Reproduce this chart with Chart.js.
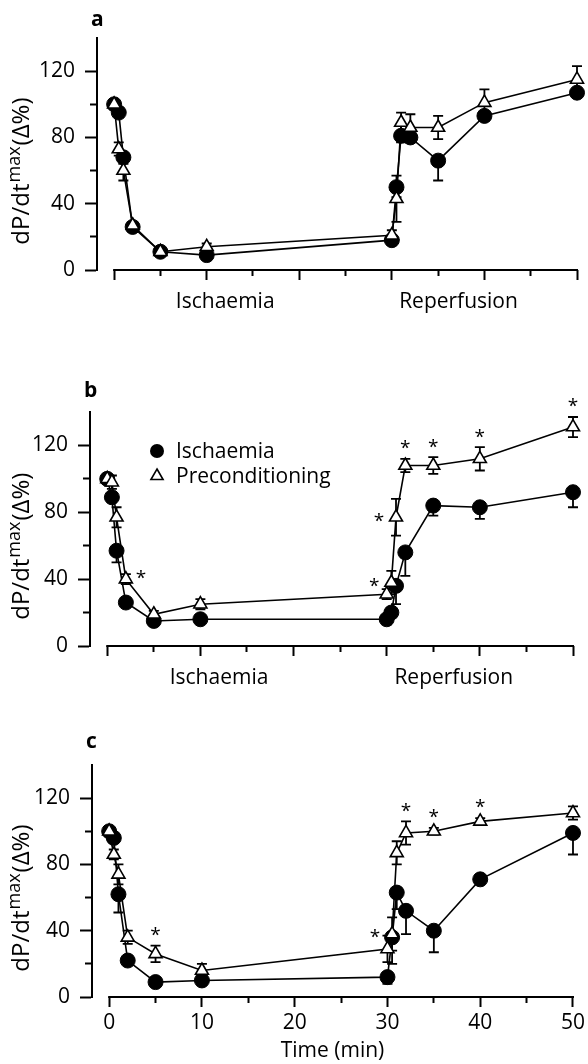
<!DOCTYPE html>
<html>
<head>
<meta charset="utf-8">
<script src="https://cdn.jsdelivr.net/npm/chart.js@4.4.1/dist/chart.umd.min.js"></script>
<style>
  html, body { margin: 0; padding: 0; background: #fff; }
  body { width: 588px; height: 1064px; position: relative; overflow: hidden; }
  canvas { position: absolute; left: 0; }
</style>
</head>
<body>
<canvas id="panelA" width="588" height="330" style="top:0px"></canvas>
<canvas id="panelB" width="588" height="370" style="top:340px"></canvas>
<canvas id="panelC" width="588" height="354" style="top:710px"></canvas>
<script>
// sampling times (min) shared by all three panels
const times = [0, 0.5, 1, 2, 5, 10, 30, 30.5, 31, 32, 35, 40, 50];

// panel a
const ischA    = [100, 95, 68, 26, 11, 9, 18, 50, 81, 80, 66, 93, 107];
const ischAErr = [0, 2, 4, 2, 2, 2, 3, 6, 4, 3, 12, 3, 3];
const precA    = [100, 73, 60, 27, 11, 14, 21, 43, 89, 86, 86, 101, 115];
const precAErr = [0, 4, 6, 2, 2, 2, 3, 14, 6, 8, 7, 8, 8];

// panel b
const ischB    = [100, 89, 57, 26, 15, 16, 16, 20, 36, 56, 84, 83, 92];
const ischBErr = [0, 3, 7, 2, 2, 2, 3, 3, 11, 14, 6, 7, 9];
const precB    = [100, 98, 77, 40, 19, 25, 31, 38, 77, 108, 108, 112, 131];
const precBErr = [0, 4, 6, 3, 2, 3, 3, 7, 11, 4, 5, 7, 6];

// panel c
const ischC    = [100, 96, 62, 22, 9, 10, 12, 36, 63, 52, 40, 71, 99];
const ischCErr = [0, 3, 11, 2, 2, 2, 4, 16, 10, 14, 13, 2, 13];
const precC    = [100, 86, 74, 36, 26, 16, 29, 38, 87, 99, 100, 106, 111];
const precCErr = [0, 3, 6, 4, 5, 4, 8, 10, 7, 7, 2, 2, 4];

// significance marks on the preconditioning series
const starsA = [];
const starsB = [[2, 'right'], [30.5, 'left'], [31, 'left'], [32, 'up'], [35, 'up'], [40, 'up'], [50, 'up']];
const starsC = [[5, 'up'], [30.5, 'left'], [32, 'up'], [35, 'up'], [40, 'up']];

// axes
const xTicks = [0, 5, 10, 15, 20, 25, 30, 35, 40, 45, 50];
const yTicks = [0, 20, 40, 60, 80, 100, 120];
const phaseTicks = [12, 37.2];
const phaseLabels = ['Ischaemia', 'Reperfusion'];
const seriesLabels = ['Ischaemia', 'Preconditioning'];

const FONT = "'Open Sans', 'Noto Sans', sans-serif";

// error bars: ischaemia drawn downwards only, preconditioning both ways
const errorBars = {
  id: 'errorBars',
  beforeDatasetsDraw(chart) {
    const ctx = chart.ctx, xs = chart.scales.x, ys = chart.scales.y;
    ctx.save();
    ctx.strokeStyle = '#000';
    ctx.lineWidth = 1.8;
    chart.data.datasets.forEach(ds => {
      ds.data.forEach((p, i) => {
        const e = ds.errors[i];
        if (!e) return;
        const x = xs.getPixelForValue(p.x);
        const lo = ys.getPixelForValue(p.y - e);
        const hi = ys.getPixelForValue(ds.bothWays ? p.y + e : p.y);
        ctx.beginPath();
        ctx.moveTo(x, lo); ctx.lineTo(x, hi);
        ctx.moveTo(x - 5, lo); ctx.lineTo(x + 5, lo);
        if (ds.bothWays) { ctx.moveTo(x - 5, hi); ctx.lineTo(x + 5, hi); }
        ctx.stroke();
      });
    });
    ctx.restore();
  }
};

const stars = {
  id: 'stars',
  afterDatasetsDraw(chart, args, o) {
    const ctx = chart.ctx, xs = chart.scales.x, ys = chart.scales.y;
    const ds = chart.data.datasets.find(d => d.label === 'Preconditioning');
    ctx.save();
    ctx.fillStyle = '#000';
    ctx.font = '19px ' + FONT;
    ctx.textAlign = 'center';
    ctx.textBaseline = 'middle';
    (o.list || []).forEach(([t, at]) => {
      const i = times.indexOf(t);
      const p = ds.data[i];
      let x = xs.getPixelForValue(p.x), y;
      if (at === 'up') {
        y = ys.getPixelForValue(p.y + ds.errors[i]) - 14;
      } else if (at === 'left') {
        x -= 17; y = ys.getPixelForValue(p.y);
      } else {
        x += 15; y = ys.getPixelForValue(p.y) - 5;
      }
      ctx.fillText('*', x, y + 4);
    });
    ctx.restore();
  }
};

// x axis line runs only from the first to the last tick
const xLine = {
  id: 'xLine',
  afterDraw(chart) {
    const ctx = chart.ctx, xs = chart.scales.x;
    const y = chart.chartArea.bottom;
    ctx.save();
    ctx.strokeStyle = '#000';
    ctx.lineWidth = 2;
    ctx.beginPath();
    ctx.moveTo(xs.getPixelForValue(xTicks[0]) - 1, y);
    ctx.lineTo(xs.getPixelForValue(xTicks[xTicks.length - 1]) + 1, y);
    ctx.stroke();
    ctx.restore();
  }
};

// rotated y title with superscript "max"
const yTitle = {
  id: 'yTitle',
  afterDraw(chart) {
    const ctx = chart.ctx, ys = chart.scales.y;
    const cy = ys.getPixelForValue(60);
    const parts = [['dP/dt', 24, 0], ['max', 18, -9], ['(\u0394%)', 24, 0]];
    ctx.save();
    ctx.translate(29, cy);
    ctx.rotate(-Math.PI / 2);
    ctx.fillStyle = '#000';
    ctx.textBaseline = 'alphabetic';
    let w = 0;
    parts.forEach(([s, f]) => { ctx.font = f + 'px ' + FONT; w += ctx.measureText(s).width + 1; });
    let x = -w / 2;
    parts.forEach(([s, f, dy]) => {
      ctx.font = f + 'px ' + FONT;
      ctx.fillText(s, x, dy);
      x += ctx.measureText(s).width + 1;
    });
    ctx.restore();
  }
};

const panelLetter = {
  id: 'panelLetter',
  afterDraw(chart, args, o) {
    const ctx = chart.ctx, a = chart.chartArea;
    ctx.save();
    ctx.fillStyle = '#000';
    ctx.font = 'bold 21px ' + FONT;
    ctx.textAlign = 'left';
    ctx.textBaseline = 'alphabetic';
    ctx.fillText(o.text, a.left - 6, a.top - o.gap);
    ctx.restore();
  }
};

const insetLegend = {
  id: 'insetLegend',
  afterDraw(chart, args, o) {
    if (!o.show) return;
    const ctx = chart.ctx, a = chart.chartArea;
    ctx.save();
    ctx.font = '21px ' + FONT;
    ctx.textBaseline = 'middle';
    ctx.fillStyle = '#000';
    ctx.strokeStyle = '#000';
    ctx.lineWidth = 1.6;
    seriesLabels.forEach((lab, i) => {
      const x = a.left + 67, y = a.top + 39 + i * 25;
      ctx.beginPath();
      if (i === 0) {
        ctx.arc(x, y, 7, 0, Math.PI * 2);
        ctx.fill();
      } else {
        const r = 7;
        ctx.moveTo(x, y - r);
        ctx.lineTo(x + r * 0.866, y + r * 0.5);
        ctx.lineTo(x - r * 0.866, y + r * 0.5);
        ctx.closePath();
        ctx.stroke();
      }
      ctx.fillText(lab, x + 19, y + 1);
    });
    ctx.restore();
  }
};

function series(vals) {
  return times.map((t, i) => ({ x: t, y: vals[i] }));
}

function makePanel(id, g, isch, ischErr, prec, precErr, starList, letter) {
  const font = { family: FONT, size: 21 };
  const scales = {
    x: {
      type: 'linear', min: -1.85, max: 50,
      afterBuildTicks: s => { s.ticks = xTicks.map(v => ({ value: v })); },
      afterFit: s => { s.height = g.xHeight; },
      grid: {
        drawOnChartArea: false, tickLength: 10, tickWidth: 2, tickColor: '#000',
        tickBorderDash: c => (c.tick && c.tick.value % 10 !== 0) ? [6, 30] : []
      },
      border: { display: false },
      ticks: {
        display: g.timeLabels, color: '#000', font, padding: 3,
        autoSkip: false, maxRotation: 0,
        callback: v => (v % 10 === 0 ? v : '')
      },
      title: {
        display: g.timeLabels, text: 'Time (min)', color: '#000', font,
        padding: { top: 0, bottom: 0 }
      }
    },
    y: {
      min: 0, max: 140,
      afterBuildTicks: s => { s.ticks = yTicks.map(v => ({ value: v })); },
      afterFit: s => { s.width = g.left; },
      grid: {
        drawOnChartArea: false, tickLength: 12, tickWidth: 2, tickColor: '#000',
        tickBorderDash: c => (c.tick && c.tick.value % 40 !== 0) ? [0, 5, 30] : []
      },
      border: { display: true, color: '#000', width: 2 },
      ticks: { color: '#000', font, padding: 10, callback: v => (v % 40 === 0 ? v : '') }
    }
  };
  if (!g.timeLabels) {
    scales.phase = {
      type: 'linear', position: 'bottom', min: -1.85, max: 50,
      afterBuildTicks: s => { s.ticks = phaseTicks.map(v => ({ value: v })); },
      afterFit: s => { s.height = 40; },
      grid: { display: false, drawTicks: false },
      border: { display: false },
      ticks: {
        color: '#000', font, padding: 9, autoSkip: false, maxRotation: 0,
        callback: (v, i) => phaseLabels[i]
      }
    };
  }
  const pointBase = { borderColor: '#000', borderWidth: 1.6, tension: 0, fill: false, clip: false, pointRadius: 7.5, pointHoverRadius: 7.5 };
  return new Chart(document.getElementById(id), {
    type: 'line',
    data: {
      datasets: [
        Object.assign({}, pointBase, {
          label: seriesLabels[0], data: series(isch), errors: ischErr, bothWays: false, order: 1,
          pointStyle: 'circle', pointBackgroundColor: '#000', pointBorderColor: '#000', pointBorderWidth: 1
        }),
        Object.assign({}, pointBase, {
          label: seriesLabels[1], data: series(prec), errors: precErr, bothWays: true, order: 0,
          pointStyle: 'triangle', pointBackgroundColor: '#fff', pointBorderColor: '#000', pointBorderWidth: 1.6
        })
      ]
    },
    options: {
      responsive: false,
      animation: false,
      devicePixelRatio: 1,
      layout: { padding: { left: 0, top: g.top, right: 588 - g.right, bottom: g.bottomPad } },
      scales,
      plugins: {
        legend: { display: false },
        tooltip: { enabled: false },
        stars: { list: starList },
        panelLetter: { text: letter, gap: g.letterGap },
        insetLegend: { show: g.legend }
      }
    },
    plugins: [errorBars, stars, xLine, yTitle, panelLetter, insetLegend]
  });
}

makePanel('panelA', { left: 97, top: 38, right: 577, xHeight: 10, bottomPad: 10, timeLabels: false, legend: false, letterGap: 12 },
  ischA, ischAErr, precA, precAErr, starsA, 'a');
makePanel('panelB', { left: 90, top: 72, right: 573, xHeight: 10, bottomPad: 14, timeLabels: false, legend: true, letterGap: 15 },
  ischB, ischBErr, precB, precBErr, starsB, 'b');
makePanel('panelC', { left: 92, top: 55, right: 575, xHeight: 67, bottomPad: 0, timeLabels: true, legend: false, letterGap: 17 },
  ischC, ischCErr, precC, precCErr, starsC, 'c');
</script>
</body>
</html>
